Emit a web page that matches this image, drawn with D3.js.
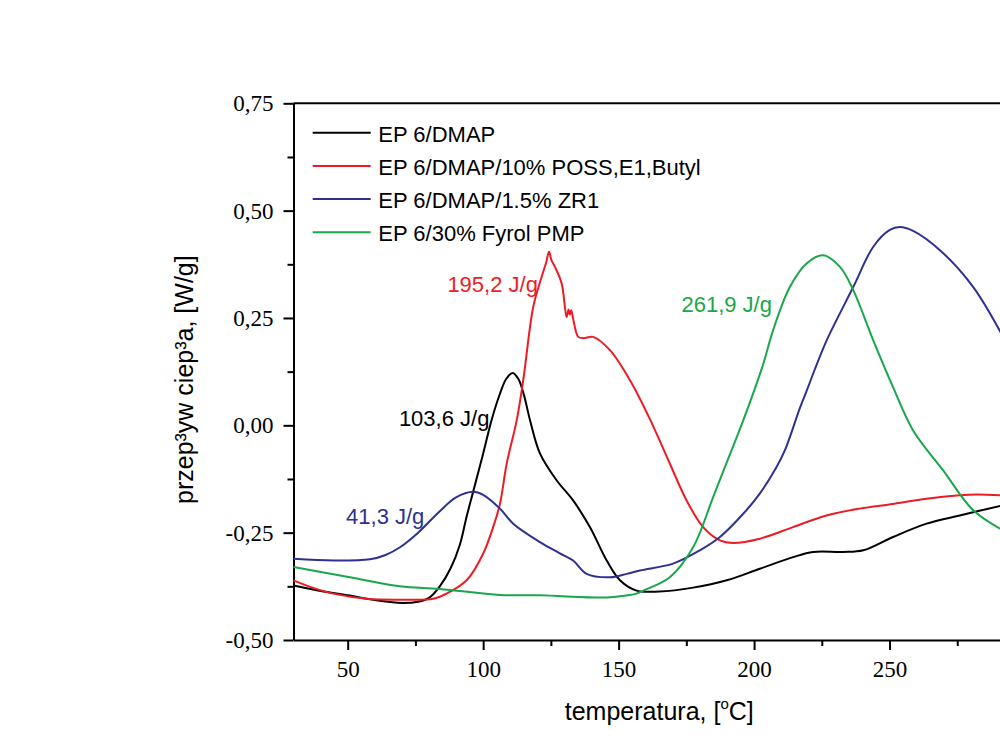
<!DOCTYPE html>
<html>
<head>
<meta charset="utf-8">
<script src="https://cdn.jsdelivr.net/npm/d3@7"></script>
<style>
  body { margin: 0; background: #fff; }
  svg { display: block; }
</style>
</head>
<body>
<div id="chart"></div>
<script>
// --------------- Data ([temperature °C, heat flow W/g]) ---------------
const epDmap = [
  [30, -0.373], [40, -0.386], [50, -0.396], [60, -0.407], [70, -0.414], [76, -0.411],
  [80, -0.402], [84, -0.375], [88, -0.333], [91.4, -0.278], [93.8, -0.215], [96.3, -0.155],
  [100, -0.066], [103.1, 0.012], [106, 0.07], [108.5, 0.108], [110.9, 0.122], [113, 0.108],
  [115, 0.072], [117.3, 0.012], [121, -0.066], [127.1, -0.128], [133.2, -0.175],
  [139.4, -0.237], [145.6, -0.315], [150.5, -0.361], [156.6, -0.385], [165, -0.387],
  [177.5, -0.378], [189.9, -0.361], [202.1, -0.334], [214.4, -0.307], [221.8, -0.295],
  [232.9, -0.295], [240.3, -0.291], [251.3, -0.26], [263.7, -0.229], [275.9, -0.21],
  [292, -0.186]
];

const epPoss = [
  [30, -0.361], [37, -0.378], [44.7, -0.392], [57, -0.404], [69.3, -0.406], [81.6, -0.404],
  [86.5, -0.392], [93.9, -0.361], [100, -0.299], [103.7, -0.237], [106.2, -0.183],
  [108.7, -0.089], [112.4, 0.012], [114.8, 0.105], [118.5, 0.276], [121.6, 0.346],
  [123.3, 0.38], [124.3, 0.404], [125.2, 0.385], [126.5, 0.369], [129, 0.33], [130.8, 0.252],
  [131.5, 0.27], [132, 0.258], [132.5, 0.268], [133.2, 0.249], [135.1, 0.206], [137, 0.203],
  [140.6, 0.206], [146.8, 0.175], [154.2, 0.105], [161.5, 0.015], [168.9, -0.089],
  [175.1, -0.175], [181.2, -0.237], [187.4, -0.268], [192.3, -0.274], [202.1, -0.264],
  [214.4, -0.237], [226.7, -0.21], [239, -0.194], [251.3, -0.183], [263.6, -0.171],
  [275.9, -0.163], [282, -0.161], [292, -0.163]
];

const epZr1 = [
  [30, -0.311], [44.7, -0.315], [58.2, -0.312], [64, -0.302], [69.3, -0.284], [76, -0.25],
  [84, -0.2], [90, -0.168], [96.3, -0.155], [100, -0.162], [106.2, -0.194], [111.1, -0.229],
  [121, -0.272], [128.3, -0.298], [133.2, -0.315], [138.2, -0.346], [146.8, -0.354],
  [153, -0.346], [157.9, -0.338], [170.1, -0.322], [180, -0.291], [187.4, -0.26],
  [196, -0.206], [202.1, -0.159], [208.3, -0.097], [211.4, -0.058], [216.9, 0.04],
  [219.4, 0.08], [222.4, 0.13], [226.8, 0.198], [236.6, 0.322], [244, 0.416], [250.1, 0.455],
  [253.8, 0.462], [258.7, 0.453], [268.6, 0.408], [280.9, 0.322], [292, 0.205]
];

const epFyrol = [
  [30, -0.33], [50.8, -0.354], [69.3, -0.375], [84, -0.381], [106.2, -0.395], [121, -0.396],
  [145.6, -0.401], [152, -0.397], [156.6, -0.392], [159.1, -0.385], [168.9, -0.354],
  [177.5, -0.284], [184.9, -0.167], [190, -0.085], [194.7, -0.01], [199.7, 0.075],
  [203.5, 0.145], [207, 0.221], [213.2, 0.322], [219.4, 0.377], [225.5, 0.396],
  [231.7, 0.369], [236.6, 0.315], [244, 0.198], [251.3, 0.089], [258.7, -0.012],
  [269.8, -0.105], [280.9, -0.198], [292, -0.245]
];

const seriesNames = [
  "EP 6/DMAP",
  "EP 6/DMAP/10% POSS,E1,Butyl",
  "EP 6/DMAP/1.5% ZR1",
  "EP 6/30% Fyrol PMP"
];
const seriesData = [epDmap, epPoss, epZr1, epFyrol];
const seriesColors = ["#000000", "#ed1c24", "#2e3192", "#1aa64a"];

// reaction enthalpies written next to the peaks, anchored in data units
const energyLabels = ["103,6 J/g", "195,2 J/g", "41,3 J/g", "261,9 J/g"];
const energyAt = [[68.9, -0.002], [86.8, 0.311], [49.4, -0.229], [173.2, 0.264]];
const energyColors = ["#000000", "#ed1c24", "#2e3192", "#1aa64a"];

const xTicks = [50, 100, 150, 200, 250];
const xMinorTicks = [75, 125, 175, 225, 275];
const yTicks = [-0.5, -0.25, 0, 0.25, 0.5, 0.75];
const yMinorTicks = [-0.375, -0.125, 0.125, 0.375, 0.625];

// --------------- Constants ---------------
const WIDTH = 1000;
const HEIGHT = 748;
const PLOT = { left: 293.5, right: 1025, top: 103.3, bottom: 640 };
const SANS = "'Liberation Sans', Arial, sans-serif";
const SERIF = "'Liberation Serif', 'Times New Roman', serif";

const plFormat = d3.formatLocale({
  decimal: ",", thousands: " ", grouping: [3], currency: ["", ""], minus: "-"
}).format(".2f");

// --------------- Prep SVG ---------------
const svg = d3
  .select("#chart")
  .append("svg")
  .attr("width", WIDTH)
  .attr("height", HEIGHT);

const x = d3.scaleLinear().domain([30, 300]).range([PLOT.left, PLOT.right]);
const y = d3.scaleLinear().domain([-0.5, 0.75]).range([PLOT.bottom, PLOT.top]);

// --------------- Axes ---------------
const styleAxis = (g) => {
  g.selectAll("path, line").attr("stroke", "#000").attr("stroke-width", 2);
  g.selectAll("text")
    .attr("fill", "#000")
    .style("font-family", SERIF)
    .style("font-size", "23px");
};

svg.append("g")
  .attr("transform", `translate(0,${PLOT.bottom})`)
  .call(d3.axisBottom(x).tickValues(xMinorTicks).tickSize(6).tickFormat(""))
  .call((g) => g.select(".domain").remove())
  .call(styleAxis);

svg.append("g")
  .attr("transform", `translate(0,${PLOT.bottom})`)
  .call(d3.axisBottom(x).tickValues(xTicks).tickSize(10).tickSizeOuter(0).tickPadding(11).tickFormat(d3.format("d")))
  .call(styleAxis);

svg.append("g")
  .attr("transform", `translate(${PLOT.left},0)`)
  .call(d3.axisLeft(y).tickValues(yMinorTicks).tickSize(6).tickFormat(""))
  .call((g) => g.select(".domain").remove())
  .call(styleAxis);

svg.append("g")
  .attr("transform", `translate(${PLOT.left},0)`)
  .call(d3.axisLeft(y).tickValues(yTicks).tickSize(10).tickSizeOuter(0).tickPadding(10).tickFormat(plFormat))
  .call(styleAxis);

// top frame line
svg.append("line")
  .attr("x1", x(30)).attr("x2", x(300))
  .attr("y1", y(0.75)).attr("y2", y(0.75))
  .attr("stroke", "#000")
  .attr("stroke-width", 2);

// --------------- Axis titles ---------------
const xTitle = svg.append("text")
  .attr("x", (PLOT.left + PLOT.right) / 2)
  .attr("y", 720)
  .attr("text-anchor", "middle")
  .style("font-family", SANS)
  .style("font-size", "25px");
xTitle.append("tspan").text("temperatura, [");
xTitle.append("tspan").attr("dy", -11).style("font-size", "15px").text("o");
xTitle.append("tspan").attr("dy", 11).text("C]");

svg.append("text")
  .attr("transform", `translate(193,${(PLOT.top + PLOT.bottom) / 2 + 8}) rotate(-90)`)
  .attr("text-anchor", "middle")
  .style("font-family", SANS)
  .style("font-size", "25px")
  .text("przep³yw ciep³a, [W/g]");

// --------------- Curves ---------------
const line = d3
  .line()
  .x((d) => x(d[0]))
  .y((d) => y(d[1]))
  .curve(d3.curveCatmullRom.alpha(0.5));

svg.append("g")
  .selectAll("path")
  .data(seriesData)
  .join("path")
  .attr("d", line)
  .attr("fill", "none")
  .attr("stroke", (d, i) => seriesColors[i])
  .attr("stroke-width", 2)
  .attr("stroke-linejoin", "round");

// --------------- Peak labels ---------------
svg.append("g")
  .selectAll("text")
  .data(energyLabels)
  .join("text")
  .attr("x", (d, i) => x(energyAt[i][0]))
  .attr("y", (d, i) => y(energyAt[i][1]))
  .attr("fill", (d, i) => energyColors[i])
  .style("font-family", SANS)
  .style("font-size", "22px")
  .text((d) => d);

// --------------- Legend ---------------
const legend = svg.append("g").attr("transform", "translate(312.7,132.7)");
seriesNames.forEach((name, i) => {
  const row = legend.append("g").attr("transform", `translate(0,${i * 33.2})`);
  row.append("line")
    .attr("x1", 0).attr("x2", 58)
    .attr("stroke", seriesColors[i])
    .attr("stroke-width", 2);
  row.append("text")
    .attr("x", 65.6)
    .attr("y", 9)
    .style("font-family", SANS)
    .style("font-size", "22px")
    .text(name);
});
</script>
</body>
</html>
